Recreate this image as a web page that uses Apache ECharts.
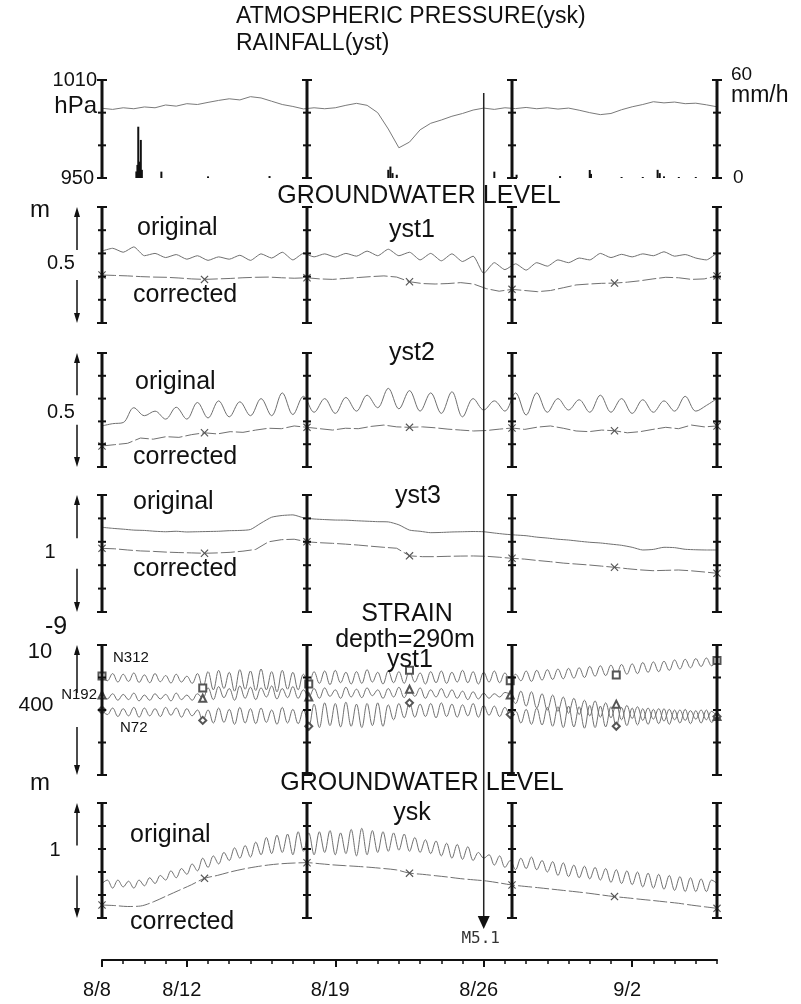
<!DOCTYPE html>
<html><head><meta charset="utf-8">
<script src="https://cdn.jsdelivr.net/npm/echarts@6/dist/echarts.min.js"></script>
<style>html,body{margin:0;padding:0;background:#fff}#c{width:801px;height:1004px}</style>
</head><body><div id="c"></div>
<script>
// ---------------- DATA ----------------
const spanDays = 29;                       // 8/8 .. 9/6
const dateLabels = ['8/8', '8/12', '8/19', '8/26', '9/2'];
const dateLabelDays = [0, 4, 11, 18, 25];
const segmentDays = [0, 29 / 3, 58 / 3, 29];
const quakeDay = 18;
const quakeLabel = 'M5.1';

const pressureTicks = [950, 970, 990, 1010];
const rainTicks = [0, 20, 40, 60];
const gwTicks05 = [0, 0.1, 0.2, 0.3, 0.4, 0.5];
const gwTicks1 = [0, 0.2, 0.4, 0.6, 0.8, 1];
const strainTicks = [0, 100, 200, 300, 400];

// atmospheric pressure (hPa), every 0.5 day
const pressure = [992.7,992.0,993.0,992.4,993.5,993.0,994.7,994.0,995.5,995.0,
  996.3,997.5,998.5,997.8,999.8,999.0,997.0,995.0,993.8,992.3,
  993.0,992.4,993.0,994.5,995.7,994.5,990.0,980.0,968.5,972.0,
  979.5,983.5,985.5,987.8,989.5,991.6,992.8,992.0,993.0,992.5,
  993.2,992.4,993.0,992.2,992.8,991.5,990.0,988.8,989.5,991.8,
  993.6,995.0,996.7,996.0,996.5,995.5,995.8,994.8,993.6];

// rainfall (mm/h): [day, value]
const rainfall = [[1.62,4],[1.67,8],[1.71,31.4],[1.76,10],[1.83,23.3],[1.88,5],[2.8,3.9],[5.0,1],[7.9,1.2],
  [13.5,5],[13.6,7],[13.7,3],[13.9,2],[18.5,3.9],[19.55,2],[21.6,1.2],[23.0,4.9],[23.06,2.5],
  [24.5,0.6],[25.5,0.6],[26.2,5],[26.3,3],[26.5,1],[27.2,0.6],[28.0,0.6]];

// groundwater yst1 (m), original every 0.5 day, corrected every 29/48 day
const yst1Original = [0.31,0.322,0.305,0.328,0.29,0.30,0.282,0.295,0.275,0.29,
  0.27,0.285,0.275,0.292,0.27,0.298,0.28,0.305,0.272,0.30,
  0.285,0.298,0.284,0.30,0.288,0.31,0.29,0.318,0.29,0.305,
  0.272,0.30,0.268,0.298,0.265,0.288,0.214,0.26,0.23,0.255,
  0.228,0.26,0.245,0.272,0.26,0.28,0.272,0.30,0.282,0.296,
  0.285,0.298,0.29,0.307,0.288,0.295,0.28,0.272,0.303];
const yst1Corrected = [0.207,0.205,0.203,0.200,0.198,0.197,0.194,0.190,0.188,0.190,
  0.192,0.195,0.197,0.198,0.195,0.193,0.195,0.190,0.188,0.192,
  0.196,0.200,0.203,0.198,0.178,0.170,0.168,0.170,0.174,0.168,
  0.148,0.137,0.145,0.140,0.135,0.140,0.152,0.164,0.168,0.171,
  0.172,0.176,0.182,0.190,0.197,0.195,0.188,0.190,0.203];

// groundwater yst2 (m)
const yst2Original = [0.18,0.19,0.195,0.26,0.225,0.245,0.21,0.262,0.21,0.283,
  0.215,0.29,0.22,0.286,0.225,0.30,0.225,0.325,0.23,0.31,
  0.24,0.30,0.235,0.305,0.245,0.315,0.26,0.345,0.255,0.335,
  0.245,0.325,0.235,0.33,0.22,0.30,0.25,0.29,0.245,0.325,
  0.228,0.325,0.24,0.30,0.25,0.295,0.24,0.315,0.24,0.30,
  0.235,0.295,0.24,0.29,0.245,0.31,0.245,0.27,0.30];
const yst2Corrected = [0.092,0.098,0.104,0.127,0.122,0.133,0.130,0.142,0.150,0.145,
  0.155,0.152,0.162,0.170,0.168,0.180,0.174,0.168,0.162,0.170,
  0.168,0.178,0.184,0.176,0.174,0.176,0.172,0.166,0.162,0.158,
  0.160,0.166,0.171,0.165,0.175,0.180,0.170,0.158,0.155,0.162,
  0.159,0.150,0.155,0.165,0.174,0.168,0.184,0.176,0.180];

// groundwater yst3 (m)
const yst3Original = [0.724,0.715,0.708,0.70,0.697,0.69,0.686,0.69,0.684,0.686,
  0.688,0.69,0.695,0.697,0.705,0.76,0.81,0.825,0.83,0.805,
  0.795,0.79,0.786,0.785,0.78,0.776,0.772,0.77,0.745,0.70,
  0.69,0.678,0.68,0.684,0.686,0.688,0.686,0.675,0.665,0.658,
  0.652,0.64,0.632,0.622,0.615,0.605,0.596,0.59,0.58,0.57,
  0.553,0.53,0.535,0.553,0.55,0.536,0.532,0.53,0.53];
const yst3Corrected = [0.544,0.540,0.530,0.522,0.518,0.512,0.508,0.505,0.502,0.505,
  0.510,0.520,0.535,0.600,0.618,0.622,0.600,0.592,0.587,0.580,
  0.572,0.562,0.553,0.545,0.480,0.473,0.473,0.476,0.478,0.479,
  0.476,0.468,0.459,0.452,0.440,0.430,0.418,0.410,0.402,0.392,
  0.382,0.370,0.360,0.353,0.356,0.359,0.352,0.342,0.331];

// strain (x10^-9, scale 0..400), every 0.25 day
const strainNames = ['N312', 'N192', 'N72'];
const strainN312 = [305,290,312,286,310,288,314,285,308,284,312,287,306,283,310,286,304,282,312,
  268,318,262,322,266,316,258,324,264,320,260,326,262,318,256,322,264,316,262,310,
  280,318,282,320,278,322,284,316,280,318,282,324,286,316,280,320,284,318,282,322,
  286,314,280,318,284,320,282,316,286,322,284,318,280,316,286,320,284,314,290,
  310,290,320,288,322,292,324,294,326,296,328,298,330,300,334,304,336,306,338,308,
  340,310,342,312,346,316,348,318,350,322,354,326,356,330,358,334,360,336,352];
const strainN192 = [246,234,250,230,248,232,252,228,246,230,250,234,248,228,252,232,246,230,250,
  236,268,232,272,238,266,230,274,236,270,232,268,240,274,234,266,238,272,236,262,
  240,266,236,268,242,262,236,270,240,264,238,268,244,262,236,266,240,270,238,264,
  242,268,236,262,240,266,238,262,236,258,232,256,234,252,236,250,240,254,246,
  220,258,212,256,206,250,200,246,196,240,190,236,186,230,182,228,178,222,176,218,
  170,214,174,210,168,206,172,204,166,202,170,200,168,198,172,200,170,196,180];
const strainN72 = [200,186,206,180,204,182,208,178,206,182,204,180,208,184,206,178,204,182,200,
  168,200,160,206,162,202,156,208,160,204,158,206,162,200,156,208,160,202,158,200,
  150,218,146,222,152,220,148,224,150,218,146,220,152,222,150,216,170,220,176,222,
  178,218,180,220,176,222,180,218,178,216,182,220,178,214,184,212,180,208,186,
  196,160,202,156,206,154,208,150,210,146,212,148,210,144,214,146,212,148,210,150,
  208,152,206,154,204,156,202,158,204,156,200,160,202,158,198,160,200,162,180];

// groundwater ysk (m)
const yskOriginal = [0.30,0.33,0.26,0.33,0.27,0.32,0.26,
  0.33,0.28,0.35,0.30,0.37,0.33,
  0.41,0.35,0.43,0.38,0.47,0.41,
  0.52,0.44,0.54,0.47,0.57,0.50,
  0.61,0.52,0.63,0.53,0.66,0.55,
  0.70,0.56,0.72,0.57,0.73,0.55,
  0.75,0.58,0.74,0.55,0.75,0.57,
  0.76,0.55,0.74,0.56,0.77,0.54,
  0.78,0.55,0.76,0.57,0.75,0.58,
  0.74,0.59,0.73,0.58,0.70,0.57,
  0.68,0.56,0.67,0.54,0.65,0.52,
  0.64,0.51,0.62,0.50,0.57,0.52,
  0.55,0.46,0.54,0.44,0.50,0.42,
  0.52,0.43,0.53,0.42,0.50,0.40,
  0.49,0.37,0.48,0.36,0.46,0.35,
  0.45,0.34,0.44,0.33,0.43,0.31,
  0.42,0.30,0.41,0.29,0.40,0.27,
  0.39,0.26,0.38,0.25,0.37,0.24,
  0.36,0.23,0.35,0.23,0.34,0.23,
  0.33,0.30];
const yskCorrected = [0.113,0.108,0.100,0.104,0.140,0.190,0.240,0.290,0.345,0.370,
  0.400,0.425,0.445,0.461,0.472,0.478,0.481,0.472,0.462,0.455,
  0.448,0.440,0.430,0.418,0.390,0.380,0.368,0.356,0.342,0.332,
  0.322,0.305,0.287,0.275,0.264,0.252,0.240,0.228,0.215,0.200,
  0.186,0.175,0.163,0.152,0.140,0.128,0.112,0.098,0.084];

// ---------------- LAYOUT / STYLE ----------------
const FONT = 'Liberation Sans, Arial, Helvetica, sans-serif';
const INK = '#111';
const TRACE = '#707070';
const grids = [ // [top, height]
  [80, 98], [207, 116], [353, 114], [495, 117], [645, 130], [803, 115]];
const LEFT = 102, RIGHT = 84;

const toPairs = arr => arr.map((v, i) => [i * spanDays / (arr.length - 1), v]);
function markerSet(n) { const s = new Set(); for (let k = 0; k <= 6; k++) s.add(Math.round(k * (n - 1) / 6)); return s; }
const crossPath = 'path://M0,1L1,0L5,4L9,0L10,1L6,5L10,9L9,10L5,6L1,10L0,9L4,5Z';

const chart = echarts.init(document.getElementById('c'), null, { renderer: 'canvas' });

const xAxes = grids.map((g, i) => ({
  type: 'value', gridIndex: i, min: 0, max: spanDays, show: i === 5, position: 'bottom',
  splitLine: { show: false }, axisLine: { onZero: false }
}));
Object.assign(xAxes[5], {
  offset: 42,
  axisLine: { show: true, onZero: false, lineStyle: { color: INK, width: 2 } },
  axisTick: { show: true, customValues: dateLabelDays, length: 7, lineStyle: { color: INK, width: 2 } },
  axisLabel: {
    show: true, customValues: dateLabelDays, margin: 20, fontSize: 20, color: INK, fontFamily: FONT,
    padding: [0, 10, 0, 0],
    formatter: v => dateLabels[dateLabelDays.indexOf(v)] || ''
  }
});
xAxes.push({
  type: 'value', gridIndex: 5, min: 0, max: spanDays, interval: 1, offset: 42, position: 'bottom',
  axisLine: { show: false, onZero: false }, axisLabel: { show: false }, splitLine: { show: false },
  axisTick: { show: true, length: 4, lineStyle: { color: INK, width: 1.5 } }
});

const yAxes = [
  { gridIndex: 0, min: 950, max: 1010 },
  { gridIndex: 0, min: 0, max: 60, position: 'right' },
  { gridIndex: 1, min: 0, max: 0.5 },
  { gridIndex: 2, min: 0, max: 0.5 },
  { gridIndex: 3, min: 0, max: 1 },
  { gridIndex: 4, min: 0, max: 400 },
  { gridIndex: 5, min: 0, max: 1 }
].map(a => Object.assign({ type: 'value', show: false, splitLine: { show: false }, axisLine: { onZero: false } }, a));

function ibeam(ticks) {
  return function (params, api) {
    const x = api.value(0);
    const pTop = api.coord([x, ticks[ticks.length - 1]]);
    const pBot = api.coord([x, ticks[0]]);
    const ch = [{ type: 'line', shape: { x1: pTop[0], y1: pTop[1], x2: pBot[0], y2: pBot[1] },
      style: { stroke: INK, lineWidth: 3 } }];
    ticks.forEach((t, i) => {
      const p = api.coord([x, t]);
      const h = (i === 0 || i === ticks.length - 1) ? 5 : 4;
      ch.push({ type: 'line', shape: { x1: p[0] - h, y1: p[1], x2: p[0] + h, y2: p[1] },
        style: { stroke: INK, lineWidth: 2 } });
    });
    return { type: 'group', children: ch };
  };
}
function beamSeries(g, y, ticks) {
  return { type: 'custom', xAxisIndex: g, yAxisIndex: y, clip: false, z: 5, silent: true,
    data: segmentDays.map(d => [d, ticks[0]]), renderItem: ibeam(ticks) };
}
function trace(g, y, arr, extra) {
  return Object.assign({
    type: 'line', xAxisIndex: g, yAxisIndex: y, data: toPairs(arr), showSymbol: false,
    smooth: 0.35, lineStyle: { color: TRACE, width: 1 }, itemStyle: { color: '#555' },
    silent: true, z: 2
  }, extra || {});
}
function corrected(g, y, arr) {
  const ms = markerSet(arr.length);
  return trace(g, y, arr, {
    smooth: false, showSymbol: true, showAllSymbol: true, symbolSize: 8,
    symbol: (v, p) => ms.has(p.dataIndex) ? crossPath : 'none',
    lineStyle: { color: TRACE, width: 1, type: [14, 3] }, itemStyle: { color: '#555' }
  });
}
function strainTrace(arr, sym) {
  const ms = markerSet(arr.length);
  return trace(4, 5, arr, {
    smooth: 0.4, showSymbol: true, showAllSymbol: true, symbolSize: 7,
    symbol: (v, p) => ms.has(p.dataIndex) ? sym : 'none',
    itemStyle: { color: '#555' }
  });
}

const series = [
  trace(0, 0, pressure, { smooth: false, lineStyle: { color: '#7a7a7a', width: 1 } }),
  { type: 'bar', xAxisIndex: 0, yAxisIndex: 1, data: rainfall, barWidth: 2, itemStyle: { color: INK }, silent: true },
  trace(1, 2, yst1Original, { smooth: 0.2 }), corrected(1, 2, yst1Corrected),
  trace(2, 3, yst2Original), corrected(2, 3, yst2Corrected),
  trace(3, 4, yst3Original, { smooth: 0.2 }), corrected(3, 4, yst3Corrected),
  strainTrace(strainN312, 'emptyRect'), strainTrace(strainN192, 'emptyTriangle'), strainTrace(strainN72, 'emptyDiamond'),
  trace(5, 6, yskOriginal), Object.assign(corrected(5, 6, yskCorrected), { smooth: 0.3 }),
  beamSeries(0, 0, pressureTicks), beamSeries(1, 2, gwTicks05), beamSeries(2, 3, gwTicks05),
  beamSeries(3, 4, gwTicks1), beamSeries(4, 5, strainTicks), beamSeries(5, 6, gwTicks1)
];

chart.setOption({
  animation: false,
  backgroundColor: '#fff',
  grid: grids.map(g => ({ left: LEFT, right: RIGHT, top: g[0], height: g[1] })),
  xAxis: xAxes, yAxis: yAxes, series
});

// ---------------- ANNOTATIONS ----------------
const texts = [
  ['ATMOSPHERIC PRESSURE(ysk)', 236, 17, 23, 'left'],
  ['RAINFALL(yst)', 236, 44, 23, 'left'],
  ['1010', 97, 80, 20, 'right'], ['hPa', 97, 106, 24, 'right'], ['950', 94, 178, 20, 'right'],
  ['60', 731, 75, 19, 'left'], ['mm/h', 731, 96, 23, 'left'], ['0', 733, 178, 19, 'left'],
  ['GROUNDWATER LEVEL', 419, 196, 25, 'center'],
  ['m', 40, 210, 24, 'center'], ['original', 137, 228, 25, 'left'], ['yst1', 412, 230, 25, 'center'],
  ['0.5', 61, 263, 20, 'center'], ['corrected', 133, 295, 25, 'left'],
  ['yst2', 412, 353, 25, 'center'], ['original', 135, 382, 25, 'left'],
  ['0.5', 61, 412, 20, 'center'], ['corrected', 133, 457, 25, 'left'],
  ['yst3', 418, 496, 25, 'center'], ['original', 133, 502, 25, 'left'],
  ['1', 50, 552, 20, 'center'], ['corrected', 133, 569, 25, 'left'],
  ['-9', 56, 627, 25, 'center'], ['10', 40, 652, 22, 'center'], ['400', 36, 705, 21, 'center'],
  ['STRAIN', 407, 614, 25, 'center'], ['depth=290m', 405, 640, 25, 'center'], ['yst1', 410, 660, 25, 'center'],
  [strainNames[0], 113, 658, 15, 'left'], [strainNames[1], 97, 695, 15, 'right'], [strainNames[2], 120, 728, 15, 'left'],
  ['m', 40, 783, 24, 'center'], ['GROUNDWATER LEVEL', 422, 783, 25, 'center'], ['ysk', 412, 813, 25, 'center'],
  ['original', 130, 835, 25, 'left'], ['1', 55, 850, 20, 'center'], ['corrected', 130, 922, 25, 'left']
];
const graphic = texts.map(t => ({
  type: 'text', x: t[1], y: t[2], silent: true, z: 20,
  style: { text: t[0], fontSize: t[3], fontFamily: FONT, fill: INK, align: t[4], verticalAlign: 'middle' }
}));

// scale arrows beside each groundwater / strain panel
const AX = 77;
grids.slice(1).forEach(g => {
  const t = g[0], h = g[1];
  graphic.push(
    { type: 'line', silent: true, shape: { x1: AX, y1: t + 6, x2: AX, y2: t + 0.37 * h }, style: { stroke: INK, lineWidth: 1.5 } },
    { type: 'polygon', silent: true, shape: { points: [[AX - 3, t + 10], [AX + 3, t + 10], [AX, t]] }, style: { fill: INK } },
    { type: 'line', silent: true, shape: { x1: AX, y1: t + 0.63 * h, x2: AX, y2: t + h - 6 }, style: { stroke: INK, lineWidth: 1.5 } },
    { type: 'polygon', silent: true, shape: { points: [[AX - 3, t + h - 10], [AX + 3, t + h - 10], [AX, t + h]] }, style: { fill: INK } }
  );
});

// earthquake marker
const ex = chart.convertToPixel({ xAxisIndex: 0 }, quakeDay);
graphic.push(
  { type: 'line', silent: true, z: 15, shape: { x1: ex, y1: 93, x2: ex, y2: 920 }, style: { stroke: '#222', lineWidth: 1.5 } },
  { type: 'polygon', silent: true, z: 15, shape: { points: [[ex - 6, 916], [ex + 6, 916], [ex, 929]] }, style: { fill: INK } },
  { type: 'text', silent: true, z: 20, x: ex - 3, y: 939,
    style: { text: quakeLabel, fontSize: 16, fontFamily: 'DejaVu Sans Mono, monospace', fill: '#333', align: 'center', verticalAlign: 'middle' } }
);

chart.setOption({ graphic });
</script>
</body></html>
